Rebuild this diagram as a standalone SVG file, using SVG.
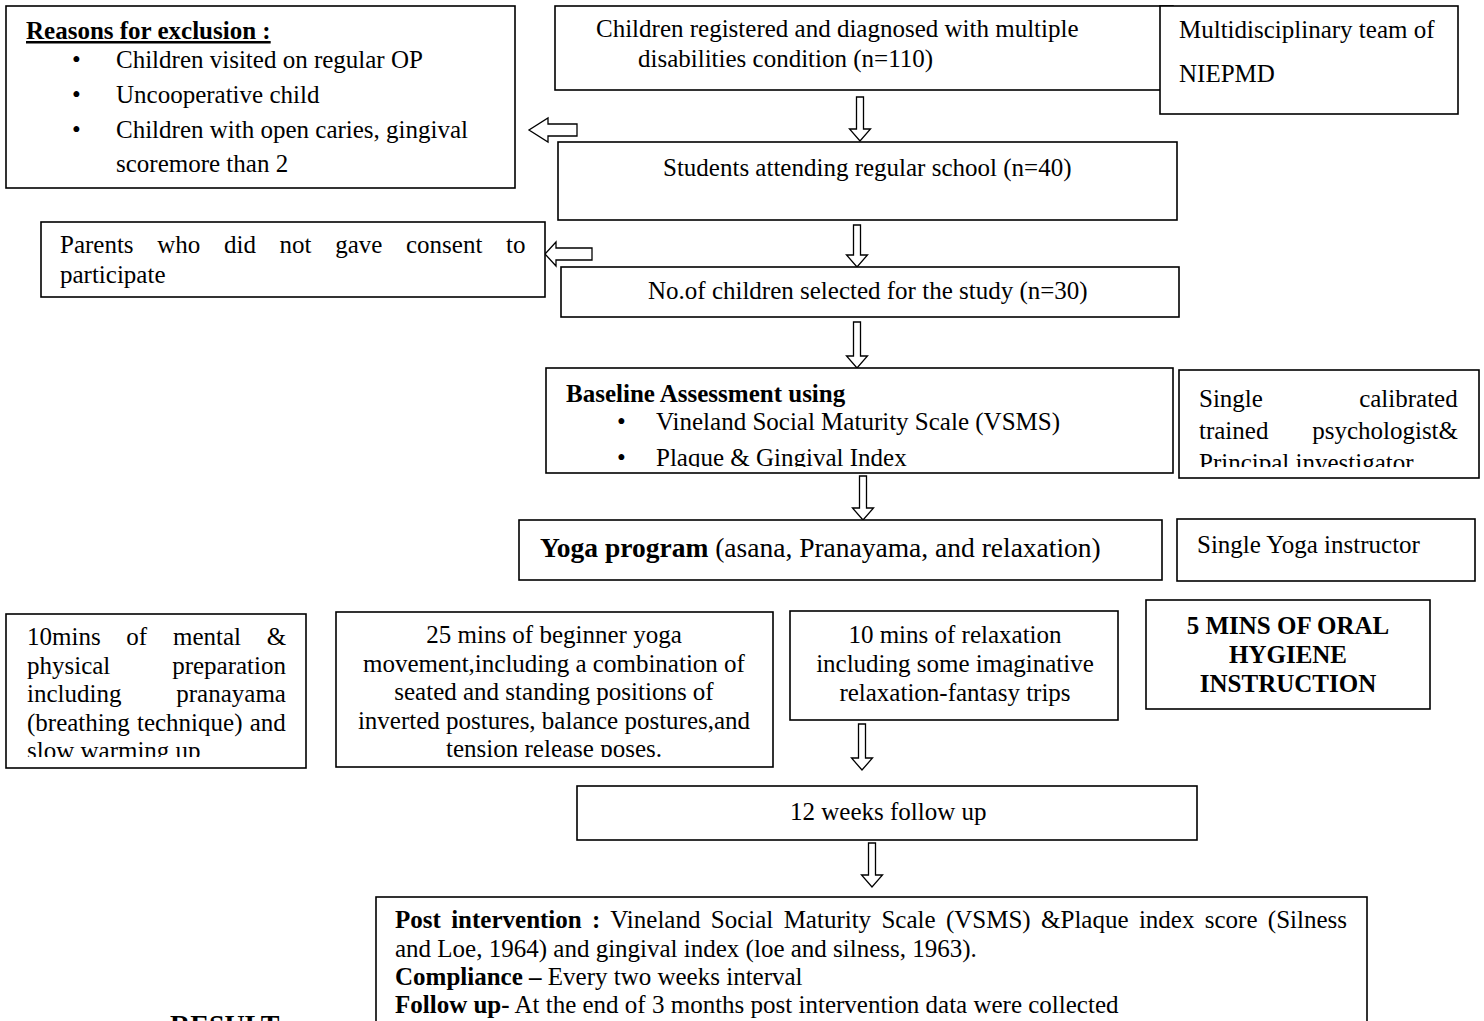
<svg xmlns="http://www.w3.org/2000/svg" width="1484" height="1021" viewBox="0 0 1484 1021">
<style>
.box{fill:#fff;stroke:#000;stroke-width:1.6}
.t{font-family:"Liberation Serif","Times New Roman",serif;font-size:25px;fill:#000}
.b{font-weight:bold}
.m{text-anchor:middle}
.arr{fill:#fff;stroke:#000;stroke-width:1.3;stroke-linejoin:miter}
</style>
<defs>
<clipPath id="cBase"><rect x="546" y="368" width="627" height="99"/></clipPath>
<clipPath id="cPsy"><rect x="1179" y="370" width="300" height="97"/></clipPath>
<clipPath id="cPrep"><rect x="6" y="614" width="300" height="143"/></clipPath>
<clipPath id="cYoga"><rect x="336" y="612" width="437" height="145"/></clipPath>
</defs>
<rect width="1484" height="1021" fill="#fff"/>

<g id="connectors">
<polygon class="arr" points="856.5,97 863.5,97 863.5,129 870.5,129 860,141 849.5,129 856.5,129"/>
<polygon class="arr" points="853.5,225 860.5,225 860.5,255 867.5,255 857,267 846.5,255 853.5,255"/>
<polygon class="arr" points="853.5,322 860.5,322 860.5,356 867.5,356 857,368 846.5,356 853.5,356"/>
<polygon class="arr" points="859.5,476 866.5,476 866.5,508 873.5,508 863,520 852.5,508 859.5,508"/>
<polygon class="arr" points="858.5,724 865.5,724 865.5,758 872.5,758 862,770 851.5,758 858.5,758"/>
<polygon class="arr" points="868.5,843 875.5,843 875.5,875 882.5,875 872,887 861.5,875 868.5,875"/>
<polygon class="arr" points="577,124 577,136 548,136 548,142 529,130 548,118 548,124"/>
<polygon class="arr" points="592,248 592,260 556,260 556,266 545,254 556,242 556,248"/>
</g>

<g id="exclusion">
<rect class="box" x="6" y="6" width="509" height="182"/>
<text class="t b" x="26" y="39" text-decoration="underline">Reasons for exclusion :</text>
<text class="t" x="72" y="68">•</text>
<text class="t" x="116" y="68">Children visited on regular OP</text>
<text class="t" x="72" y="103">•</text>
<text class="t" x="116" y="103">Uncooperative child</text>
<text class="t" x="72" y="138">•</text>
<text class="t" x="116" y="138">Children with open caries, gingival</text>
<text class="t" x="116" y="172">scoremore than 2</text>
</g>

<g id="registered">
<rect class="box" x="555" y="6" width="618" height="84"/>
<text class="t" x="596" y="37">Children registered and diagnosed with multiple</text>
<text class="t" x="638" y="67">disabilities condition (n=110)</text>
</g>

<g id="team">
<rect class="box" x="1160" y="6" width="298" height="108"/>
<text class="t" x="1179" y="38">Multidisciplinary team of</text>
<text class="t" x="1179" y="82">NIEPMD</text>
</g>

<g id="students">
<rect class="box" x="558" y="142" width="619" height="78"/>
<text class="t" x="663" y="176">Students attending regular school (n=40)</text>
</g>

<g id="parents">
<rect class="box" x="41" y="222" width="504" height="75"/>
<text class="t" x="60" y="253" style="word-spacing:17.4px">Parents who did not gave consent to</text>
<text class="t" x="60" y="283">participate</text>
</g>

<g id="selected">
<rect class="box" x="561" y="267" width="618" height="50"/>
<text class="t" x="648" y="299">No.of children selected for the study (n=30)</text>
</g>

<g id="baseline">
<rect class="box" x="546" y="368" width="627" height="105"/>
<g clip-path="url(#cBase)">
<text class="t b" x="566" y="402">Baseline Assessment using</text>
<text class="t" x="617" y="430">•</text>
<text class="t" x="656" y="430">Vineland Social Maturity Scale (VSMS)</text>
<text class="t" x="617" y="466">•</text>
<text class="t" x="656" y="466">Plaque &amp; Gingival Index</text>
</g>
</g>

<g id="psychologist">
<rect class="box" x="1179" y="370" width="300" height="108"/>
<g clip-path="url(#cPsy)">
<text class="t" x="1199" y="407" style="word-spacing:90px">Single calibrated</text>
<text class="t" x="1199" y="439" style="word-spacing:37.5px">trained psychologist&amp;</text>
<text class="t" x="1199" y="471">Principal investigator</text>
</g>
</g>

<g id="yoga">
<rect class="box" x="519" y="520" width="643" height="60"/>
<text class="t" x="540" y="557" style="font-size:27.5px"><tspan class="b">Yoga program</tspan> (asana, Pranayama, and relaxation)</text>
</g>

<g id="instructor">
<rect class="box" x="1177" y="519" width="298" height="62"/>
<text class="t" x="1197" y="553">Single Yoga instructor</text>
</g>

<g id="preparation">
<rect class="box" x="6" y="614" width="300" height="154"/>
<g clip-path="url(#cPrep)">
<text class="t" x="27" y="645" style="word-spacing:19.5px">10mins of mental &amp;</text>
<text class="t" x="27" y="673.5" style="word-spacing:55.6px">physical preparation</text>
<text class="t" x="27" y="702" style="word-spacing:48.6px">including pranayama</text>
<text class="t" x="27" y="730.5" style="word-spacing:1px">(breathing technique) and</text>
<text class="t" x="27" y="759">slow warming up</text>
</g>
</g>

<g id="beginner">
<rect class="box" x="336" y="612" width="437" height="155"/>
<g clip-path="url(#cYoga)">
<text class="t m" x="554" y="643">25 mins of beginner yoga</text>
<text class="t m" x="554" y="671.5">movement,including a combination of</text>
<text class="t m" x="554" y="700">seated and standing positions of</text>
<text class="t m" x="554" y="728.5">inverted postures, balance postures,and</text>
<text class="t m" x="554" y="757">tension release poses.</text>
</g>
</g>

<g id="relaxation">
<rect class="box" x="790" y="611" width="328" height="109"/>
<text class="t m" x="955" y="643">10 mins of relaxation</text>
<text class="t m" x="955" y="672">including some imaginative</text>
<text class="t m" x="955" y="701">relaxation-fantasy trips</text>
</g>

<g id="oral">
<rect class="box" x="1146" y="600" width="284" height="109"/>
<text class="t b m" x="1288" y="634">5 MINS OF ORAL</text>
<text class="t b m" x="1288" y="663">HYGIENE</text>
<text class="t b m" x="1288" y="692">INSTRUCTION</text>
</g>

<g id="followup">
<rect class="box" x="577" y="786" width="620" height="54"/>
<text class="t" x="790" y="820">12 weeks follow up</text>
</g>

<g id="post">
<rect class="box" x="376" y="897" width="991" height="140"/>
<text class="t" x="395" y="928" style="word-spacing:4.1px"><tspan class="b">Post intervention :</tspan> Vineland Social Maturity Scale (VSMS)  &amp;Plaque index score (Silness</text>
<text class="t" x="395" y="957">and Loe, 1964) and gingival index (loe and silness, 1963).</text>
<text class="t" x="395" y="985"><tspan class="b">Compliance –</tspan> Every two weeks interval</text>
<text class="t" x="395" y="1013"><tspan class="b">Follow up-</tspan> At the end of 3 months post intervention data were collected</text>
</g>

<text class="t b" x="170" y="1034" style="font-size:28px">RESULT</text>
</svg>
